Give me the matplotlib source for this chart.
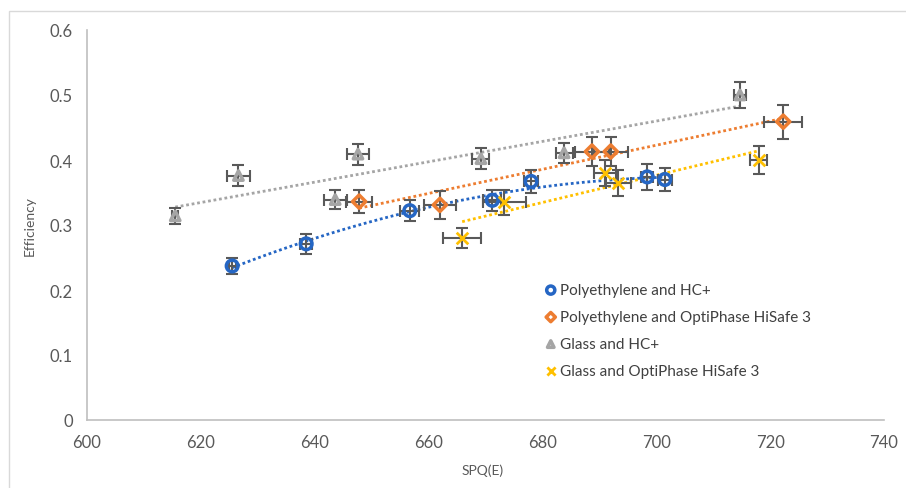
import numpy as np
import matplotlib.pyplot as plt
from matplotlib.patches import Rectangle

plt.rcParams['font.family'] = ['Lato', 'DejaVu Sans']

# Polyethylene and HC+
pe_hc_x = [625.5, 638.5, 656.7, 671.2, 678.0, 698.4, 701.5]
pe_hc_y = [0.237, 0.271, 0.322, 0.338, 0.367, 0.374, 0.370]
pe_hc_xe = [0.6, 1.0, 1.7, 1.6, 1.2, 1.1, 1.2]
pe_hc_ye = [0.013, 0.015, 0.016, 0.016, 0.017, 0.020, 0.018]

# Polyethylene and OptiPhase HiSafe 3
pe_op_x = [647.8, 662.0, 688.7, 692.0, 722.3]
pe_op_y = [0.336, 0.331, 0.413, 0.413, 0.459]
pe_op_xe = [2.3, 2.8, 3.0, 3.0, 3.3]
pe_op_ye = [0.018, 0.021, 0.022, 0.022, 0.026]

# Glass and HC+
gl_hc_x = [615.5, 626.6, 643.6, 647.6, 669.2, 683.8, 714.7]
gl_hc_y = [0.314, 0.376, 0.339, 0.409, 0.402, 0.411, 0.500]
gl_hc_xe = [0.5, 2.0, 2.0, 2.0, 1.5, 1.5, 1.0]
gl_hc_ye = [0.012, 0.016, 0.015, 0.016, 0.016, 0.015, 0.020]

# Glass and OptiPhase HiSafe 3
gl_op_x = [665.9, 673.3, 691.0, 693.3, 718.0]
gl_op_y = [0.280, 0.335, 0.380, 0.365, 0.400]
gl_op_xe = [3.3, 3.8, 2.0, 2.2, 1.5]
gl_op_ye = [0.016, 0.019, 0.020, 0.020, 0.022]

series = [
    ("Polyethylene and HC+", pe_hc_x, pe_hc_y, pe_hc_xe, pe_hc_ye, '#2566c4', 'o', 2),
    ("Polyethylene and OptiPhase HiSafe 3", pe_op_x, pe_op_y, pe_op_xe, pe_op_ye, '#ed7d31', 'D', 1),
    ("Glass and HC+", gl_hc_x, gl_hc_y, gl_hc_xe, gl_hc_ye, '#a5a5a5', '^', 1),
    ("Glass and OptiPhase HiSafe 3", gl_op_x, gl_op_y, gl_op_xe, gl_op_ye, '#ffc000', 'x', 1),
]

fig = plt.figure(figsize=(9.06, 4.89), dpi=100)
ax = fig.add_axes([87/906, 1-421/489, 797/906, 390/489])

fig.patches.append(Rectangle((9/906, -0.05), 1.0, 1.05 - 12/489, transform=fig.transFigure,
                             fill=False, edgecolor='#d9d9d9', linewidth=1.0))

for name, x, y, xe, ye, col, mk, deg in series:
    x = np.array(x)
    y = np.array(y)
    # trendline
    p = np.polyfit(x, y, deg)
    xs = np.linspace(x.min(), x.max(), 100)
    ax.plot(xs, np.polyval(p, xs), color=col, linestyle=(0, (1, 1)), linewidth=2, zorder=2)
    ax.errorbar(x, y, xerr=xe, yerr=ye, fmt='none', ecolor='#595959', elinewidth=1.5,
                capsize=4, capthick=1.5, zorder=3)
    if mk == 'x':
        ax.scatter(x, y, marker='x', s=70, color=col, linewidths=2, zorder=4, label=name)
    else:
        ms = 70 if mk == 'o' else 45
        ax.scatter(x, y, marker=mk, s=ms, facecolors='none', edgecolors=col, linewidths=2.5,
                   zorder=4, label=name)

ax.set_xlim(600, 740)
ax.set_ylim(0, 0.6)
ax.set_xticks(np.arange(600, 741, 20))
ax.set_yticks(np.arange(0, 0.61, 0.1))
ax.set_yticklabels(['0', '0.1', '0.2', '0.3', '0.4', '0.5', '0.6'])
ax.tick_params(length=0, labelsize=12, colors='#595959', pad=10)
for s in ['top', 'right']:
    ax.spines[s].set_visible(False)
for s in ['left', 'bottom']:
    ax.spines[s].set_color('#bfbfbf')
    ax.spines[s].set_linewidth(1.2)

fig.text(483/906, 1-471/489, 'SPQ(E)', ha='center', va='center', fontsize=10, color='#595959')
fig.text(30/906, 1-226/489, 'Efficiency', ha='center', va='center', rotation=90, fontsize=10, color='#595959')

ax.legend(loc='upper left', bbox_to_anchor=(450/797, (421-278)/390), frameon=False, fontsize=11,
          labelcolor='#404040', handletextpad=0.1, labelspacing=0.85, handlelength=1.0,
          markerscale=0.7, borderaxespad=0)

fig.savefig('out.png', dpi=100)
